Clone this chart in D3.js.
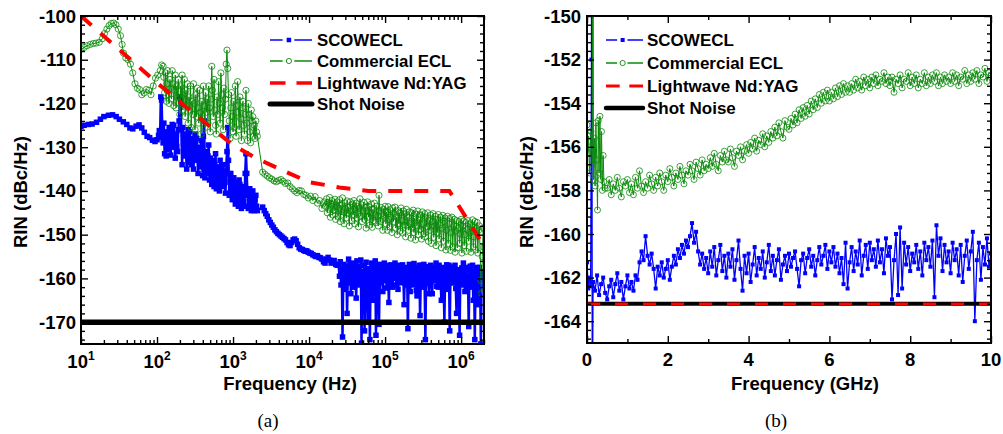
<!DOCTYPE html>
<html>
<head>
<meta charset="utf-8">
<script src="https://cdn.jsdelivr.net/npm/d3@7"></script>
<style>
  body { margin: 0; background: #fff; }
  svg text { font-family: "Liberation Sans", Arial, sans-serif; font-weight: bold; fill: #000; }
</style>
</head>
<body>
<svg id="chart" width="1003" height="434"></svg>
<script>
////////////
// DATA
////////////

// ---- panel (a): x = frequency in Hz (log axis), y = RIN in dBc/Hz ----

// SCOWECL, smooth start: [Hz, dBc/Hz]
const scowA_head = [
  [10,-125.2],[11,-125],[12.5,-124.8],[14,-124.7],[16,-124.3],[18,-123.6],[20,-123],[23,-122.7],
  [26,-122.6],[29,-123],[32,-123.6],[36,-124.2],[40,-124.8],[44,-125.6],[48,-125.8],[53,-125.2],
  [58,-124.9],[63,-125.6],[68,-126.6],[74,-127.5],[80,-127.8],[87,-128.4],[94,-128.7],[100,-128.3]
];
// SCOWECL, noisy band on a log10(Hz) grid: 2.02, 2.03 ... 3.32
const scowA_bandStart = 2.02, scowA_bandStep = 0.01;
const scowA_band = [
  -127.3,-126.2,-127.8,-118.5,-119.2,-126.5,-129.0,-124.5,-131.5,-127.0,
  -132.0,-126.5,-129.5,-130.5,-125.5,-128.5,-131.8,-127.5,-124.8,-130.0,
  -125.0,-128.2,-132.5,-127.0,-129.8,-131.0,-126.0,-124.0,-118.5,-119.5,
  -126.0,-134.0,-125.5,-129.0,-132.0,-127.0,-130.5,-135.0,-129.0,-126.0,
  -133.5,-126.5,-130.0,-134.0,-128.0,-131.5,-135.0,-129.5,-127.0,-133.0,
  -128.0,-131.0,-136.0,-130.0,-133.0,-134.5,-128.5,-131.5,-136.5,-127.5,
  -124.0,-137.0,-131.0,-134.0,-136.0,-132.0,-129.5,-137.5,-132.5,-135.5,
  -138.5,-133.0,-136.0,-139.0,-134.0,-131.5,-139.5,-136.0,-134.5,-137.5,
  -140.0,-133.0,-135.0,-138.5,-139.0,-134.0,-135.5,-137.0,-140.5,-136.0,
  -131.0,-125.5,-133.0,-141.0,-138.0,-136.0,-139.5,-142.0,-137.5,-137.0,
  -140.5,-143.0,-139.0,-138.0,-141.5,-143.5,-137.5,-138.5,-142.0,-144.0,
  -140.0,-139.0,-142.5,-143.5,-136.0,-131.5,-136.0,-141.0,-144.0,-140.5,
  -139.5,-142.5,-144.5,-141.5,-140.0,-143.0,-144.5,-142.0,-141.0,-143.5,
  -144.5
];
// SCOWECL, smooth decline on log10(Hz) grid: 3.39, 3.41 ... 4.37
const scowA_declStart = 3.39, scowA_declStep = 0.02;
const scowA_decl = [
  -143.7,-144.5,-145.2,-145.8,-146.6,-147.2,-147.8,-148.3,-148.9,-149.3,
  -149.7,-150.0,-150.3,-150.6,-150.9,-151.2,-151.8,-152.3,-152.5,-151.8,
  -151.2,-151.0,-151.4,-152.2,-153.0,-153.3,-153.4,-153.6,-153.8,-153.7,
  -154.0,-154.2,-154.3,-154.6,-154.8,-155.0,-154.8,-155.2,-155.3,-155.6,
  -156.2,-156.5,-155.6,-155.2,-155.8,-156.5,-156.3,-155.9,-156.8,-157.0
];
// SCOWECL, noisy tail on log10(Hz) grid: 4.39, 4.40 ... 6.30
const scowA_tailStart = 4.39, scowA_tailStep = 0.01;
const scowA_tail = [
  -157.0,-159.5,-156.2,-161.5,-158.0,-173.4,-160.0,-156.8,-162.5,-158.5,
  -157.2,-168.0,-159.0,-155.6,-161.0,-157.5,-163.5,-158.2,-156.5,-160.8,
  -162.0,-157.0,-159.5,-164.5,-156.0,-158.8,-161.5,-157.3,-160.2,-155.8,
  -174.8,-158.5,-162.0,-157.0,-172.0,-159.5,-156.3,-161.0,-170.0,-157.8,
  -160.5,-174.0,-158.0,-156.5,-162.5,-165.0,-157.5,-159.8,-156.0,-173.0,
  -160.0,-157.0,-162.0,-170.5,-158.3,-156.8,-161.0,-157.5,-163.0,-159.2,
  -156.5,-160.5,-158.0,-162.2,-157.0,-159.0,-165.5,-157.8,-161.2,-156.9,
  -159.7,-162.0,-157.3,-160.0,-156.5,-158.7,-161.5,-157.0,-162.5,-159.0,
  -157.5,-160.8,-158.2,-161.0,-156.9,-159.5,-166.0,-158.0,-157.5,-161.5,
  -159.0,-171.5,-158.0,-156.8,-163.0,-160.0,-157.2,-161.5,-158.5,-156.6,
  -160.5,-157.5,-162.8,-164.0,-158.0,-159.8,-157.0,-168.5,-160.0,-157.0,
  -162.0,-158.5,-156.8,-161.2,-174.0,-159.0,-158.5,-157.3,-161.0,-163.5,
  -158.0,-157.0,-160.5,-163.5,-157.8,-157.5,-160.5,-159.0,-156.5,-161.8,
  -158.2,-162.0,-157.0,-158.0,-160.0,-165.0,-158.5,-157.5,-161.0,-170.0,
  -159.0,-158.0,-156.9,-162.5,-160.5,-157.0,-172.0,-159.5,-158.5,-161.0,
  -157.4,-161.0,-159.5,-157.0,-162.3,-168.0,-158.8,-158.0,-160.5,-173.0,
  -159.0,-158.5,-157.6,-161.5,-156.5,-160.0,-163.0,-158.5,-157.5,-162.0,
  -159.5,-171.0,-158.0,-157.2,-162.0,-160.0,-157.0,-165.0,-158.5,-174.0,
  -160.5,-158.0,-157.5,-166.0,-159.0,-157.5,-161.5,-175.0,-160.0,-158.5,
  -159.5,-161.0
];

// Commercial ECL, head: [Hz, dBc/Hz]
const eclA_head = [
  [10,-107.6],[11,-107.2],[12,-106.8],[13.2,-106.5],[14.5,-106.3],[15.8,-106.2],[17.4,-106],
  [19.1,-105.2],[20.4,-104],[21.9,-103],[23.4,-102.2],[25.1,-101.7],[26.9,-101.6],[28.8,-102],
  [30.9,-103],[33.1,-104.5],[34.7,-106.5],[36.3,-108.5],[38.9,-109.6],[41.7,-110],[44.7,-111],
  [47.9,-113],[51.3,-115.5],[55,-116.5],[58.9,-116.8],[63.1,-118],[67.6,-117.6],[72.4,-116.8],
  [77.6,-117],[83.2,-118],[89.1,-116],[95.5,-114.2],[102,-113.5],[110,-112.5],[115,-111.2]
];
// Commercial ECL, dense band on log10(Hz) grid: 2.08, 2.09 ... 3.32
const eclA_bandStart = 2.08, eclA_bandStep = 0.01;
const eclA_band = [
  -111.5,-114.0,-117.5,-113.0,-119.5,-115.5,-112.5,-118.0,-120.0,-114.5,
  -116.5,-119.0,-112.5,-115.5,-120.5,-117.0,-113.5,-121.0,-116.0,-118.5,
  -114.5,-120.0,-122.5,-116.0,-118.5,-113.5,-121.5,-119.0,-114.5,-123.0,
  -117.0,-120.5,-115.5,-124.5,-118.5,-121.5,-116.0,-125.5,-119.5,-122.5,
  -115.5,-120.0,-126.0,-118.0,-123.0,-116.5,-121.0,-124.5,-117.0,-122.0,
  -127.0,-119.5,-123.5,-116.0,-120.5,-125.5,-117.5,-122.0,-119.0,-124.5,
  -116.0,-121.0,-126.5,-119.0,-111.5,-117.0,-123.0,-114.5,-121.5,-125.0,
  -127.0,-118.5,-122.5,-115.0,-120.0,-124.5,-113.0,-118.0,-121.0,-126.0,
  -116.5,-122.5,-119.0,-111.0,-107.8,-112.0,-118.0,-124.0,-128.0,-121.0,
  -117.5,-123.0,-126.5,-119.5,-125.5,-116.0,-127.5,-122.0,-115.0,-120.5,
  -126.0,-118.5,-123.5,-128.5,-121.0,-119.5,-125.0,-127.0,-122.5,-117.0,
  -124.5,-128.5,-120.0,-122.5,-126.5,-129.0,-121.5,-124.0,-123.0,-127.5,
  -125.0,-128.0,-124.0,-126.5,-127.5
];
// Commercial ECL, second segment
const eclA_mid = [
  [2450,-135.7],[2630,-136.2],[2820,-136.6],[3020,-137],[3240,-137.3],[3470,-137.7],[3720,-137.9],
  [3980,-137.6],[4270,-137.4],[4570,-137.8],[4900,-138.3],[5250,-138.2],[5620,-139],[6030,-139.5],
  [6460,-140],[6920,-140.4],[7410,-139.9],[7940,-140],[8510,-140.8],[9120,-141],[9770,-141.6],
  [10470,-141.2],[11220,-142.2],[12020,-141.3],[12880,-142.8],[13800,-142.2],[14790,-144],[15850,-142.5]
];
// Commercial ECL, dense part on log10(Hz) grid: 4.22, 4.23 ... 6.24
const eclA_gridStart = 4.22, eclA_gridStep = 0.01;
const eclA_grid = [
  -143.5,-141.8,-145.0,-142.6,-144.2,-141.5,-146.0,-143.0,-142.2,-145.5,
  -142.8,-144.5,-141.9,-146.5,-143.5,-142.5,-145.8,-144.0,-142.0,-147.0,
  -143.2,-145.5,-141.6,-144.8,-147.5,-142.7,-144.0,-146.2,-142.3,-145.2,
  -143.8,-148.0,-142.5,-144.6,-146.8,-143.0,-145.5,-142.2,-147.5,-144.2,
  -142.8,-146.2,-143.5,-148.2,-144.0,-141.8,-145.8,-143.2,-147.0,-144.5,
  -142.6,-146.5,-143.8,-148.5,-144.5,-142.5,-146.0,-143.6,-147.8,-145.0,
  -143.0,-148.3,-144.2,-146.8,-142.8,-145.5,-147.2,-143.5,-145.8,-148.0,
  -141.0,-144.5,-147.0,-143.8,-146.5,-149.0,-144.2,-145.8,-143.5,-147.5,
  -144.8,-149.0,-143.6,-146.5,-148.2,-144.3,-146.0,-149.5,-143.9,-147.0,
  -145.2,-143.7,-148.5,-146.0,-150.0,-144.5,-147.5,-145.0,-149.2,-143.9,
  -146.8,-149.6,-144.6,-147.8,-145.2,-150.5,-144.2,-148.0,-146.0,-149.0,
  -144.8,-147.5,-150.8,-145.0,-148.5,-144.4,-149.5,-146.2,-151.2,-145.3,
  -148.0,-144.6,-150.0,-146.5,-148.8,-145.5,-151.0,-144.8,-147.5,-149.8,
  -145.2,-150.5,-146.0,-148.2,-145.0,-151.5,-146.8,-149.0,-145.5,-152.0,
  -147.0,-145.2,-150.6,-148.0,-145.8,-152.5,-146.5,-149.5,-145.4,-151.0,
  -147.8,-146.0,-153.0,-148.5,-145.6,-151.5,-147.0,-146.2,-153.5,-149.0,
  -145.8,-152.0,-147.5,-146.3,-153.6,-149.5,-146.0,-152.8,-148.0,-146.5,
  -154.0,-149.2,-146.8,-153.0,-148.5,-147.0,-152.0,-149.8,-146.5,-154.2,
  -148.0,-146.9,-152.5,-150.0,-147.2,-153.8,-148.8,-146.8,-151.5,-149.5,
  -147.5,-154.0,-148.2,-146.6,-152.8,-150.5,-147.0,-153.5,-148.5,-147.2,
  -154.2,-149.0,-148.0
];
const eclA_end = [[1.82e6,-160.5],[1.86e6,-163.4],[1.90e6,-155],[1.95e6,-148.5],[2.0e6,-153]];

// Lightwave Nd:YAG and shot noise
const yagA = [[10,-100],[100,-115.3],[316,-122.5],[1000,-129.5],[2000,-132.5],[4500,-135.3],
  [1e4,-138],[2.5e4,-139.2],[6e4,-140],[7e5,-140],[2e6,-152.6]];
const shotA = [[10,-170],[2e6,-170]];

// ---- panel (b): x = frequency in GHz, y = RIN in dBc/Hz ----
const scowB_head = [[0,-161.3],[0.03,-162.5],[0.06,-162.0],[0.09,-162.4],[0.11,-152],[0.12,-140],[0.13,-170]];
const scowB_start = 0.15, scowB_step = 0.05;
const scowB_vals = [
  -162.2,-162.6,-161.9,-162.8,-162.3,-162.0,-162.7,-163.0,-162.4,-162.1,
  -162.9,-162.3,-161.8,-162.6,-162.2,-163.0,-162.4,-161.9,-162.5,-162.2,
  -162.6,-161.9,-162.1,-161.3,-160.8,-161.2,-160.1,-161.0,-161.4,-160.9,
  -161.6,-162.5,-161.5,-161.9,-161.3,-162.0,-161.6,-161.2,-162.1,-161.5,
  -161.0,-161.4,-160.7,-161.1,-160.5,-160.9,-160.3,-160.6,-160.1,-159.5,
  -160.4,-159.9,-160.8,-161.4,-160.9,-161.6,-161.1,-161.8,-160.8,-161.5,
  -160.6,-161.9,-161.2,-160.5,-161.7,-161.0,-162.0,-160.9,-161.5,-160.7,
  -162.1,-161.2,-160.3,-161.6,-162.6,-161.0,-161.8,-160.9,-162.2,-161.4,
  -160.6,-161.9,-161.1,-161.6,-160.8,-162.0,-161.3,-160.5,-161.7,-161.0,
  -161.9,-161.2,-160.7,-162.1,-161.4,-161.0,-161.7,-160.9,-161.5,-161.1,
  -160.8,-161.6,-162.4,-161.2,-160.9,-161.8,-161.1,-160.7,-161.5,-161.0,
  -161.9,-161.2,-160.6,-161.4,-161.0,-160.5,-161.6,-160.8,-161.3,-160.6,
  -161.5,-160.9,-161.8,-161.1,-162.3,-160.4,-162.5,-161.3,-160.6,-161.7,
  -160.8,-161.4,-160.3,-161.9,-161.0,-160.5,-161.6,-160.4,-161.2,-160.7,
  -161.5,-160.3,-161.3,-160.7,-161.8,-160.2,-161.0,-160.6,-163.0,-161.2,
  -160.0,-162.8,-159.7,-162.5,-160.4,-161.4,-160.6,-161.7,-160.9,-161.3,
  -160.5,-161.6,-160.8,-161.9,-160.4,-161.2,-160.6,-161.5,-160.3,-162.9,
  -159.6,-161.0,-160.2,-161.7,-160.5,-161.3,-160.8,-161.8,-160.4,-161.2,
  -160.7,-161.9,-160.5,-162.2,-161.0,-160.3,-161.6,-160.8,-159.9,-164.0,
  -161.2,-160.4,-162.1,-160.6,-161.4,-160.2,-161.5,-160.9
];
const eclB_head = [[0,-155.0],[0.02,-156.3],[0.04,-155.5],[0.06,-157.2],[0.08,-156.0],[0.10,-155.3],
  [0.13,-156.8],[0.15,-140],[0.16,-157.5],[0.18,-155.6],[0.20,-157.8],[0.22,-154.9],[0.24,-156.6],
  [0.26,-158.9],[0.28,-154.8],[0.30,-157.2],[0.32,-154.6],[0.34,-157.5],[0.36,-155.3],[0.38,-158.0],
  [0.40,-156.4],[0.42,-157.6],[0.45,-157.9]];
const eclB_start = 0.5, eclB_step = 0.05;
const eclB_vals = [
  -157.9,-157.5,-158.2,-157.7,-158.0,-157.4,-157.9,-158.3,-157.6,-157.8,
  -157.5,-158.1,-157.7,-158.2,-157.4,-157.9,-157.1,-157.8,-158.1,-157.6,
  -157.9,-157.3,-157.7,-158.0,-157.4,-157.8,-157.2,-157.6,-158.0,-157.3,
  -157.6,-157.0,-157.4,-157.8,-157.2,-157.5,-156.9,-157.3,-157.7,-157.1,
  -157.3,-156.8,-157.1,-157.5,-156.7,-157.0,-157.3,-156.6,-157.1,-156.8,
  -157.0,-156.5,-156.9,-156.3,-156.8,-157.1,-156.4,-156.7,-156.2,-156.6,
  -156.7,-156.1,-156.5,-156.9,-156.2,-156.4,-156.0,-156.6,-156.2,-155.9,
  -156.3,-155.8,-156.1,-155.6,-156.2,-155.7,-155.9,-155.4,-156.0,-155.5,
  -155.8,-155.3,-155.6,-155.1,-155.5,-154.9,-155.3,-155.6,-154.8,-155.1,
  -155.2,-154.7,-155.0,-154.5,-154.9,-154.3,-154.7,-154.2,-154.6,-154.1,
  -154.5,-153.9,-154.3,-153.8,-154.2,-153.6,-154.0,-153.5,-153.9,-153.4,
  -153.9,-153.5,-153.8,-153.3,-153.7,-153.2,-153.6,-153.1,-153.5,-153.2,
  -153.5,-153.1,-153.4,-152.9,-153.3,-153.0,-153.4,-152.8,-153.2,-152.9,
  -153.3,-152.8,-153.1,-152.7,-153.2,-152.9,-153.0,-152.6,-153.1,-152.8,
  -153.2,-152.8,-153.5,-152.9,-153.1,-152.7,-153.3,-152.9,-153.0,-152.6,
  -153.2,-152.8,-153.1,-152.7,-153.3,-152.9,-153.1,-152.6,-153.2,-152.8,
  -153.1,-152.7,-153.0,-152.6,-153.2,-152.8,-153.1,-152.7,-153.0,-152.8,
  -153.1,-152.6,-153.0,-152.7,-153.2,-152.8,-152.9,-152.5,-153.1,-152.7,
  -153.0,-152.6,-152.9,-152.5,-153.1,-152.7,-152.8,-152.4,-153.0,-152.6,
  -152.7
];
const yagB = [[0,-163.2],[10,-163.2]];
const shotB = [[0,-163.2],[10,-163.2]];

const legendLabels = ["SCOWECL", "Commercial ECL", "Lightwave Nd:YAG", "Shot Noise"];

////////////
// HELPERS
////////////
function logGrid(start, step, vals) {
  return vals.map((v, i) => [Math.pow(10, start + i * step), v]);
}
function linGrid(start, step, vals) {
  return vals.map((v, i) => [start + i * step, v]);
}

const BLUE = "#0000ff", GREEN = "#0a8a0a", RED = "#ff0000";
const svg = d3.select("#chart");

function drawSeries(g, x, y, data, st) {
  const line = d3.line().x(d => x(d[0])).y(d => y(d[1]));
  g.append("path").datum(data)
    .attr("d", line)
    .attr("fill", "none")
    .attr("stroke", st.color)
    .attr("stroke-width", st.width)
    .attr("stroke-dasharray", st.dash || null);
  if (st.marker === "square") {
    g.append("g").selectAll("rect").data(data).join("rect")
      .attr("x", d => x(d[0]) - st.size / 2)
      .attr("y", d => y(d[1]) - st.size / 2)
      .attr("width", st.size).attr("height", st.size)
      .attr("fill", st.color);
  } else if (st.marker === "circle") {
    g.append("g").selectAll("circle").data(data).join("circle")
      .attr("cx", d => x(d[0])).attr("cy", d => y(d[1]))
      .attr("r", st.size)
      .attr("fill", "none").attr("stroke", st.color).attr("stroke-width", 0.8);
  }
}

function drawFrame(g, x, y, box, xMaj, xMin, yMaj, yMin) {
  const ax = g.append("g");
  const put = (axis, tx, ty) => ax.append("g").attr("transform", `translate(${tx},${ty})`).call(axis);
  put(d3.axisBottom(x).tickValues(xMaj).tickSize(-7).tickFormat(""), 0, box.y1);
  put(d3.axisBottom(x).tickValues(xMin).tickSize(-4).tickFormat(""), 0, box.y1);
  put(d3.axisTop(x).tickValues(xMaj).tickSize(-7).tickFormat(""), 0, box.y0);
  put(d3.axisTop(x).tickValues(xMin).tickSize(-4).tickFormat(""), 0, box.y0);
  put(d3.axisLeft(y).tickValues(yMaj).tickSize(-7).tickFormat(""), box.x0, 0);
  put(d3.axisLeft(y).tickValues(yMin).tickSize(-4).tickFormat(""), box.x0, 0);
  put(d3.axisRight(y).tickValues(yMaj).tickSize(-7).tickFormat(""), box.x1, 0);
  put(d3.axisRight(y).tickValues(yMin).tickSize(-4).tickFormat(""), box.x1, 0);
  ax.selectAll(".domain").remove();
  ax.selectAll(".tick line").attr("stroke", "#000").attr("stroke-width", 1.4);
  g.append("rect")
    .attr("x", box.x0).attr("y", box.y0)
    .attr("width", box.x1 - box.x0).attr("height", box.y1 - box.y0)
    .attr("fill", "none").attr("stroke", "#000").attr("stroke-width", 2);
}

function drawLegend(g, x0, x1, tx, rows, fs, sq, cr, dashW, shotW) {
  const L = x1 - x0;
  rows.forEach((ry, i) => {
    const row = g.append("g");
    if (i === 0 || i === 1) {
      const col = i === 0 ? BLUE : GREEN;
      row.append("line").attr("x1", x0).attr("x2", x0 + 0.3 * L).attr("y1", ry).attr("y2", ry)
        .attr("stroke", col).attr("stroke-width", 1.5);
      row.append("line").attr("x1", x0 + 0.58 * L).attr("x2", x1).attr("y1", ry).attr("y2", ry)
        .attr("stroke", col).attr("stroke-width", 1.5);
      if (i === 0) {
        row.append("rect").attr("x", x0 + 0.45 * L - sq / 2).attr("y", ry - sq / 2)
          .attr("width", sq).attr("height", sq).attr("fill", BLUE);
      } else {
        row.append("circle").attr("cx", x0 + 0.45 * L).attr("cy", ry).attr("r", cr)
          .attr("fill", "none").attr("stroke", GREEN).attr("stroke-width", 0.9);
      }
    } else if (i === 2) {
      row.append("line").attr("x1", x0).attr("x2", x0 + 0.37 * L).attr("y1", ry).attr("y2", ry)
        .attr("stroke", RED).attr("stroke-width", dashW);
      row.append("line").attr("x1", x0 + 0.63 * L).attr("x2", x1).attr("y1", ry).attr("y2", ry)
        .attr("stroke", RED).attr("stroke-width", dashW);
    } else {
      row.append("line").attr("x1", x0).attr("x2", x1).attr("y1", ry).attr("y2", ry)
        .attr("stroke", "#000").attr("stroke-width", shotW).attr("stroke-linecap", "round");
    }
    row.append("text").attr("x", tx).attr("y", ry + 6).attr("font-size", fs).text(legendLabels[i]);
  });
}

////////////
// PANEL (a)
////////////
const boxA = { x0: 81, x1: 484, y0: 16, y1: 344 };
const xA = d3.scaleLog().domain([10, 2e6]).range([boxA.x0, boxA.x1]);
const yA = d3.scaleLinear().domain([-175, -100]).range([boxA.y1, boxA.y0]);

const gA = svg.append("g");
gA.append("clipPath").attr("id", "clipA").append("rect")
  .attr("x", boxA.x0).attr("y", boxA.y0).attr("width", boxA.x1 - boxA.x0).attr("height", boxA.y1 - boxA.y0);
const plotA = gA.append("g").attr("clip-path", "url(#clipA)");

const scowA = scowA_head.concat(
  logGrid(scowA_bandStart, scowA_bandStep, scowA_band),
  logGrid(scowA_declStart, scowA_declStep, scowA_decl),
  logGrid(scowA_tailStart, scowA_tailStep, scowA_tail));
const eclA = eclA_head.concat(
  logGrid(eclA_bandStart, eclA_bandStep, eclA_band), eclA_mid,
  logGrid(eclA_gridStart, eclA_gridStep, eclA_grid), eclA_end);

drawSeries(plotA, xA, yA, scowA, { color: BLUE, width: 2.5, marker: "square", size: 5.5 });
drawSeries(plotA, xA, yA, eclA, { color: GREEN, width: 1, marker: "circle", size: 3.1 });
drawSeries(plotA, xA, yA, shotA, { color: "#000", width: 5.5 });
drawSeries(plotA, xA, yA, yagA, { color: RED, width: 4, dash: "14,12" });

const decades = [1, 2, 3, 4, 5, 6];
const xMajA = decades.map(d => Math.pow(10, d));
const xMinA = [];
decades.forEach(d => { for (let m = 2; m <= 9; m++) { const v = m * Math.pow(10, d); if (v <= 2e6) xMinA.push(v); } });
const yMajA = d3.range(-170, -99, 10);
const yMinA = d3.range(-174, -99, 2).filter(v => v % 10 !== 0);
drawFrame(gA, xA, yA, boxA, xMajA, xMinA, yMajA, yMinA);

yMajA.forEach(v => {
  gA.append("text").attr("x", 76).attr("y", yA(v) + 6.5).attr("text-anchor", "end")
    .attr("font-size", 18.5).text(v);
});
decades.forEach(d => {
  const t = gA.append("text").attr("x", xA(Math.pow(10, d))).attr("y", 368)
    .attr("text-anchor", "middle").attr("font-size", 18.5);
  t.append("tspan").text("10");
  t.append("tspan").attr("dy", -8).attr("font-size", 12).text(d);
});
gA.append("text").attr("x", 290).attr("y", 390).attr("text-anchor", "middle")
  .attr("font-size", 18.5).text("Frequency (Hz)");
gA.append("text").attr("transform", "translate(27,192) rotate(-90)").attr("text-anchor", "middle")
  .attr("font-size", 18.5).text("RIN (dBc/Hz)");
drawLegend(gA, 270, 312, 317, [40, 61, 83, 104], 16.8, 4.5, 2.6, 3.5, 5);

////////////
// PANEL (b)
////////////
const boxB = { x0: 587, x1: 991, y0: 16, y1: 343 };
const xB = d3.scaleLinear().domain([0, 10]).range([boxB.x0, boxB.x1]);
const yB = d3.scaleLinear().domain([-165, -150]).range([boxB.y1, boxB.y0]);

const gB = svg.append("g");
gB.append("clipPath").attr("id", "clipB").append("rect")
  .attr("x", boxB.x0).attr("y", boxB.y0).attr("width", boxB.x1 - boxB.x0).attr("height", boxB.y1 - boxB.y0);
const plotB = gB.append("g").attr("clip-path", "url(#clipB)");

const scowB = scowB_head.concat(linGrid(scowB_start, scowB_step, scowB_vals));
const eclB = eclB_head.concat(linGrid(eclB_start, eclB_step, eclB_vals));

drawSeries(plotB, xB, yB, scowB, { color: BLUE, width: 1.3, marker: "square", size: 4 });
drawSeries(plotB, xB, yB, eclB, { color: GREEN, width: 1, marker: "circle", size: 3 });
drawSeries(plotB, xB, yB, shotB, { color: "#000", width: 4 });
drawSeries(plotB, xB, yB, yagB, { color: RED, width: 2.5, dash: "13,15" });

const xMajB = d3.range(0, 10.1, 2);
const xMinB = d3.range(1, 10, 2);
const yMajB = d3.range(-164, -149.9, 2);
const yMinB = d3.range(-2, 36).map(k => -164 + 0.4 * k).filter(v => Math.abs(Math.round(v / 2) * 2 - v) > 0.01);
drawFrame(gB, xB, yB, boxB, xMajB, xMinB, yMajB, yMinB);

yMajB.forEach(v => {
  gB.append("text").attr("x", 581).attr("y", yB(v) + 6.5).attr("text-anchor", "end")
    .attr("font-size", 18.5).text(v);
});
xMajB.forEach(v => {
  gB.append("text").attr("x", xB(v)).attr("y", 366).attr("text-anchor", "middle")
    .attr("font-size", 18.5).text(v);
});
gB.append("text").attr("x", 805).attr("y", 390).attr("text-anchor", "middle")
  .attr("font-size", 18.5).text("Frequency (GHz)");
gB.append("text").attr("transform", "translate(533,192) rotate(-90)").attr("text-anchor", "middle")
  .attr("font-size", 18.5).text("RIN (dBc/Hz)");
drawLegend(gB, 606, 643, 647, [40, 63, 86, 108], 17, 4, 2.6, 3, 4.5);

// captions
svg.append("text").attr("x", 268).attr("y", 427).attr("text-anchor", "middle")
  .style("font-family", "'Liberation Serif', 'Times New Roman', serif").style("font-weight", "normal")
  .attr("font-size", 19).text("(a)");
svg.append("text").attr("x", 776).attr("y", 427).attr("text-anchor", "middle")
  .style("font-family", "'Liberation Serif', 'Times New Roman', serif").style("font-weight", "normal")
  .attr("font-size", 19).text("(b)");
</script>
</body>
</html>
